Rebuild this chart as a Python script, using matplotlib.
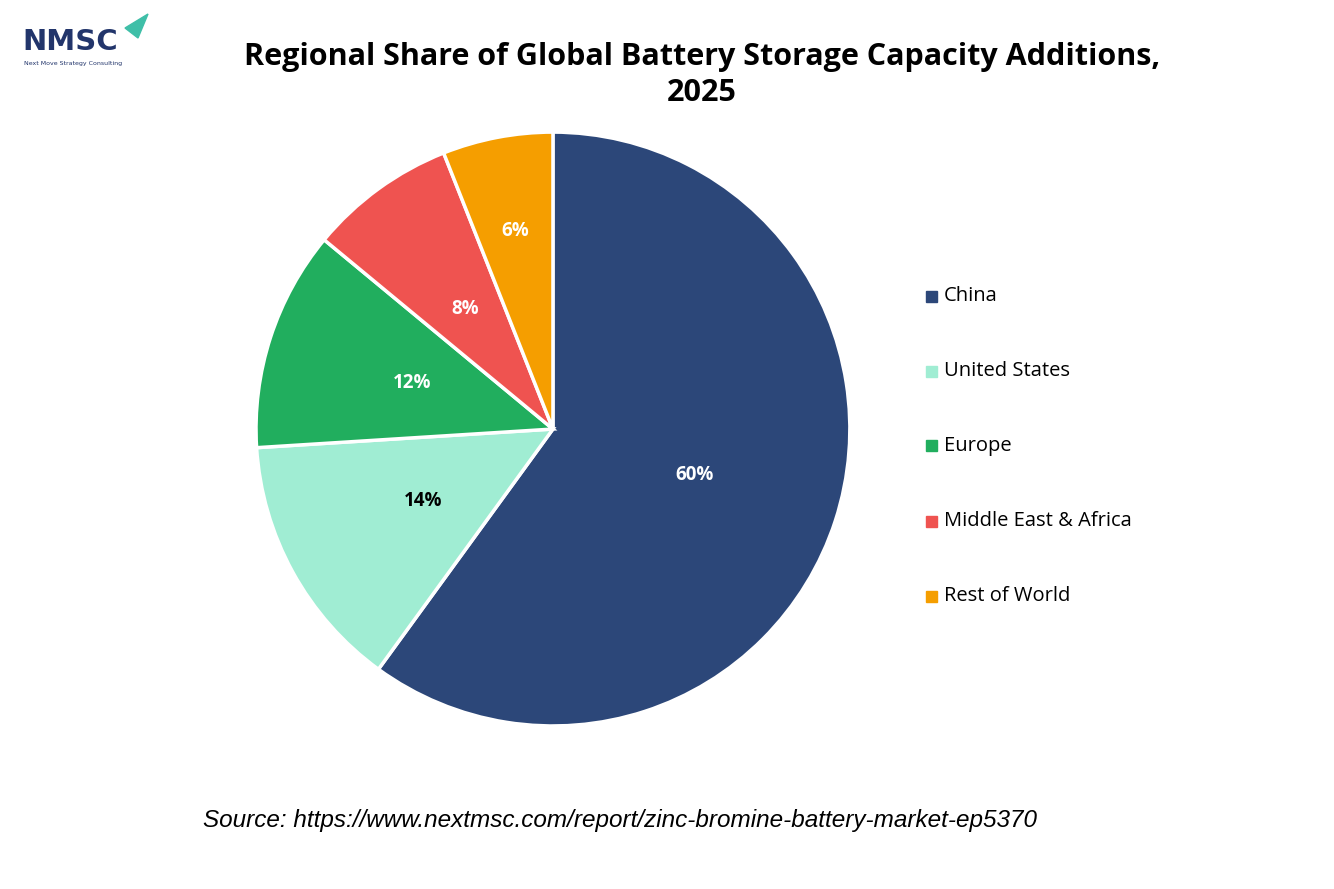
import matplotlib
matplotlib.use('Agg')
import matplotlib.pyplot as plt

regions = ['China', 'United States', 'Europe', 'Middle East & Africa', 'Rest of World']
shares = [60, 14, 12, 8, 6]
colors = ['#2C4779', '#A0EDD3', '#21AE5E', '#EF5350', '#F59E00']
label_colors = ['white', 'black', 'white', 'white', 'white']

fig = plt.figure(figsize=(13.34, 8.89), dpi=100)
ax = fig.add_axes([0.4145 - 0.2226, 0.5174 - 0.334, 0.4452, 0.668])

wedges, texts, autotexts = ax.pie(
    shares, colors=colors, startangle=90, counterclock=False,
    autopct='%d%%', pctdistance=0.5,
    wedgeprops=dict(edgecolor='white', linewidth=2.5))
for t, c in zip(autotexts, label_colors):
    t.set_color(c)
    t.set_fontsize(13.5)
    t.set_fontweight('bold')
    t.set_family('Open Sans')
# the smallest slice's label sits further out, as in the original
x, y = autotexts[-1].get_position()
autotexts[-1].set_position((x * 0.68 / 0.5, y * 0.68 / 0.5))
ax.set_xlim(-1, 1)
ax.set_ylim(-1, 1)
ax.set_aspect('equal')

# legend drawn by hand
for i, (r, c) in enumerate(zip(regions, colors)):
    y = 1 - (296 + 75 * i) / 889
    fig.patches.append(plt.Rectangle((926 / 1334, y - 5.5 / 889), 11 / 1334, 11 / 889,
                                     transform=fig.transFigure, color=c))
    fig.text(944 / 1334, y, r, fontsize=14.5, va='center', family='Open Sans')

fig.text(0.526, 1 - 75 / 889, 'Regional Share of Global Battery Storage Capacity Additions,\n2025',
         ha='center', va='center', fontsize=22, fontweight='bold', family='Open Sans',
         linespacing=1.3)

fig.text(620 / 1334, 1 - 820 / 889,
         'Source: https://www.nextmsc.com/report/zinc-bromine-battery-market-ep5370',
         ha='center', va='center', fontsize=17.5, style='italic', family='Liberation Sans')

# logo
fig.text(22 / 1334, 1 - 42 / 889, 'NMSC', fontsize=21, fontweight='bold', color='#22356B',
         va='center', family='DejaVu Sans')
fig.text(24 / 1334, 1 - 63 / 889, 'Next Move Strategy Consulting', fontsize=4.5,
         color='#22356B', va='center')
fig.patches.append(plt.Polygon([(125 / 1334, 1 - 28 / 889), (148 / 1334, 1 - 14 / 889),
                                (138 / 1334, 1 - 38 / 889)], closed=True,
                               transform=fig.transFigure, color='#3FBFA8'))

fig.savefig('out.png', dpi=100)
